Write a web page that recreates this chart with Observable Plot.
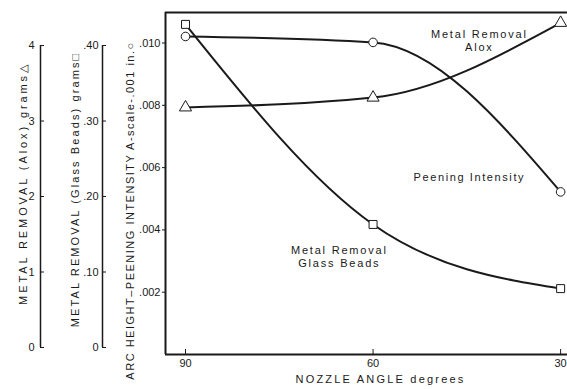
<!DOCTYPE html>
<html><head><meta charset="utf-8">
<script src="https://cdn.jsdelivr.net/npm/d3@7"></script>
<script src="https://cdn.jsdelivr.net/npm/@observablehq/plot@0.6"></script>
<style>
body{margin:0;background:#fff}
svg{display:block}
</style>
</head><body><div id="chart"></div>
<script>
// ---- data ----
const angles = [90, 60, 30];
const peening = [0.01021, 0.01002, 0.00522];      // in.
const aloxGrams = [3.18, 3.31, 4.30];              // grams
const glassGrams = [0.428, 0.163, 0.078];          // grams
const angleTicks = [90, 60, 30];
const peeningTicks = [0.002, 0.004, 0.006, 0.008, 0.010];
const aloxTicks = [0, 1, 2, 3, 4];
const aloxTickLabels = ["0", "1", "2", "3", "4"];
const glassTicks = [0, 0.1, 0.2, 0.3, 0.4];
const glassTickLabels = ["0", ".10", ".20", ".30", ".40"];
const labelAlox = "METAL REMOVAL (Alox) grams\u25B3";
const labelGlass = "METAL REMOVAL (Glass Beads) grams\u25A1";
const labelMain = "ARC HEIGHT\u2013PEENING INTENSITY A-scale-.001 in.\u25CB";
const labelX = "NOZZLE ANGLE degrees";
const annotations = [
  {text: "Metal Removal\nAlox", angle: 43.0, value: 0.01008},
  {text: "Peening Intensity", angle: 44.6, value: 0.00571},
  {text: "Metal Removal\nGlass Beads", angle: 65.4, value: 0.00315}
];

// ---- layout ----
const W = 567, H = 389;
const xDomain = [93.2, 28.9];
const yDomain = [0, 0.01098];
// secondary (grams) axes share the frame: alox a -> peening-scale value
const aloxToP = a => (7 + 75.5 * a) / 31150;
const glassToP = g => aloxToP(g * 10);

const rows = angles.map((a, i) => ({angle: a, p: peening[i], alox: aloxToP(aloxGrams[i]), glass: glassToP(glassGrams[i])}));
const aloxLab = new Map(aloxTicks.map((t, i) => [aloxToP(t), aloxTickLabels[i]]));
const glassLab = new Map(glassTicks.map((t, i) => [glassToP(t), glassTickLabels[i]]));

const ink = "#1a1a1a";
const chart = Plot.plot({
  width: W, height: H,
  marginLeft: 165, marginRight: 0, marginTop: 12, marginBottom: 35,
  style: {fontFamily: "'Liberation Sans', Arial, sans-serif", fontSize: "11px", color: ink, background: "#fff"},
  x: {domain: xDomain, axis: null},
  y: {domain: yDomain, axis: null},
  marks: [
    // frame (left, top, bottom)
    Plot.ruleX([xDomain[0]], {stroke: ink, strokeWidth: 2}),
    Plot.ruleY([yDomain[1]], {stroke: ink, strokeWidth: 2}),
    Plot.ruleY([yDomain[0]], {stroke: ink, strokeWidth: 2}),
    // main axis
    Plot.axisY(peeningTicks, {anchor: "left", tickSize: 3, tickPadding: 2, label: null,
      tickFormat: d => d3.format(".3f")(d).slice(1), stroke: ink, fill: ink}),
    // bottom axis
    Plot.axisX(angleTicks, {anchor: "bottom", tickSize: -5, tickPadding: 10, label: null, stroke: ink, fill: ink}),
    // alox axis
    Plot.ruleX([xDomain[0]], {y1: aloxToP(0), y2: aloxToP(4), dx: -125, stroke: ink, strokeWidth: 1.5}),
    Plot.axisY([...aloxLab.keys()], {anchor: "left", dx: -125, tickSize: -4, tickPadding: 10, label: null,
      tickFormat: d => aloxLab.get(d), stroke: ink, fill: ink}),
    // glass axis
    Plot.ruleX([xDomain[0]], {y1: glassToP(0), y2: glassToP(0.4), dx: -63, stroke: ink, strokeWidth: 1.5}),
    Plot.axisY([...glassLab.keys()], {anchor: "left", dx: -63, tickSize: -4, tickPadding: 8, label: null,
      tickFormat: d => glassLab.get(d), stroke: ink, fill: ink}),
    // axis titles
    Plot.text([labelAlox], {frameAnchor: "left", textAnchor: "middle", rotate: -90, dx: -142, dy: 0, fill: ink}),
    Plot.text([labelGlass], {frameAnchor: "left", textAnchor: "middle", rotate: -90, dx: -90, dy: 6, fill: ink}),
    Plot.text([labelMain], {frameAnchor: "left", textAnchor: "middle", rotate: -90, dx: -35, dy: 27, fill: ink}),
    Plot.text([labelX], {frameAnchor: "bottom", textAnchor: "middle", dx: 14, dy: 28, fill: ink}),
    // curves
    Plot.line(rows, {x: "angle", y: "p", curve: "monotone-x", stroke: ink, strokeWidth: 2}),
    Plot.line(rows, {x: "angle", y: "alox", curve: "monotone-x", stroke: ink, strokeWidth: 2}),
    Plot.line(rows, {x: "angle", y: "glass", curve: "natural", stroke: ink, strokeWidth: 2}),
    Plot.dot(rows, {x: "angle", y: "p", symbol: "circle", r: 4.3, fill: "white", stroke: ink, strokeWidth: 1}),
    Plot.dot(rows, {x: "angle", y: "alox", symbol: "triangle", r: 4.5, fill: "white", stroke: ink, strokeWidth: 1}),
    Plot.dot(rows, {x: "angle", y: "glass", symbol: "square", r: 4.5, fill: "white", stroke: ink, strokeWidth: 1}),
    // annotations
    Plot.text(annotations, {x: "angle", y: "value", text: "text", lineHeight: 1.2, fill: ink})
  ]
});
// letter spacing to match the typewriter-like lettering of the original
const spacing = new Map([
  [labelAlox, "2.9px"], [labelGlass, "2.1px"], [labelMain, "1.5px"], [labelX, "2.2px"],
  ["Metal Removal", "1.8px"], ["Alox", "1.8px"], ["Peening Intensity", "1.6px"], ["Glass Beads", "1.8px"]
]);
d3.select(chart).selectAll("text, tspan").each(function() {
  const t = this.textContent;
  if (this.tagName === "text" && this.querySelector("tspan")) return;
  if (spacing.has(t)) this.style.letterSpacing = spacing.get(t);
});
document.getElementById("chart").appendChild(chart);
</script>
</body></html>
